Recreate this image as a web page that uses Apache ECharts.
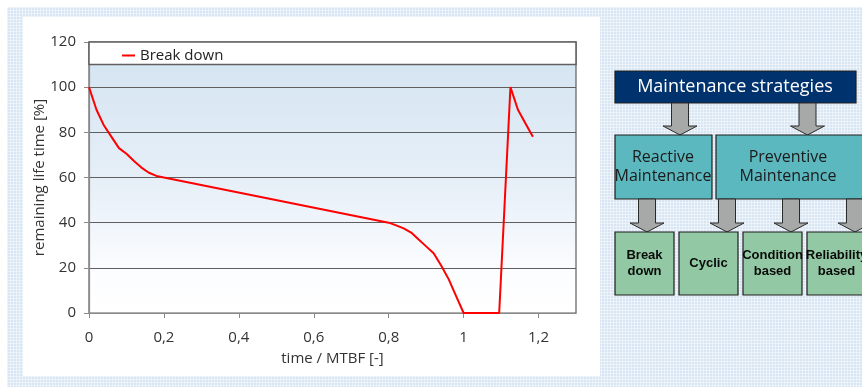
<!DOCTYPE html>
<html>
<head>
<meta charset="utf-8">
<script src="https://cdn.jsdelivr.net/npm/echarts@6/dist/echarts.min.js"></script>
<style>
  html, body { margin: 0; padding: 0; background: #ffffff; }
  #wrap { position: relative; width: 862px; height: 387px; overflow: hidden; }
  #bg {
    position: absolute; left: 7px; top: 7px; width: 855px; height: 380px;
    background-color: #d8e6f3;
    background-image:
      linear-gradient(90deg, rgba(255,255,255,0.45) 1px, transparent 1px),
      linear-gradient(rgba(255,255,255,0.45) 1px, transparent 1px);
    background-size: 3px 3px;
  }
  #panel { position: absolute; left: 23px; top: 17px; width: 577px; height: 359px; background: #ffffff; }
  #chart { position: absolute; left: 0; top: 0; width: 862px; height: 387px; }
</style>
</head>
<body>
<div id="wrap">
  <div id="bg"></div>
  <div id="panel"></div>
  <div id="chart"></div>
</div>
<script>
// Remaining life time of a component under a break-down strategy
const seriesName = 'Break down';
const timeMTBF = [0, 0.02, 0.04, 0.06, 0.08, 0.1, 0.12, 0.14, 0.16, 0.18, 0.2,
                  0.8, 0.82, 0.84, 0.86, 0.88, 0.9, 0.92, 0.94, 0.96, 0.98, 1.0,
                  1.095, 1.125, 1.145, 1.17, 1.185];
const remainingLife = [100, 90, 83, 78, 73, 70.5, 67.3, 64.4, 62.1, 60.7, 60,
                       40, 38.8, 37.5, 35.6, 32.5, 29.5, 26.5, 21, 15, 7.5, 0,
                       0, 100, 90, 82.5, 78];
const xTicks = [0, 0.2, 0.4, 0.6, 0.8, 1.0, 1.2];
const yTicks = [0, 20, 40, 60, 80, 100, 120];

// Strategy tree labels
const rootLabel = 'Maintenance strategies';
const groupLabels = ['Reactive\nMaintenance', 'Preventive\nMaintenance'];
const leafLabels = ['Break\ndown', 'Cyclic', 'Condition\nbased', 'Reliability\nbased'];

const FONT = '"Open Sans", "Noto Sans", sans-serif';
const fmtX = v => String(+(+v).toFixed(1)).replace('.', ',');

function downArrow(cx, y0, yh, y1) {
  const s = 8.5, h = 17;
  return {
    type: 'polygon',
    shape: { points: [[cx - s, y0], [cx + s, y0], [cx + s, yh], [cx + h, yh], [cx, y1], [cx - h, yh], [cx - s, yh]] },
    style: { fill: '#a6a9a7', stroke: '#2a2a2a', lineWidth: 1 }
  };
}
function box(x, y, w, h, fill) {
  return { type: 'rect', shape: { x, y, width: w, height: h }, style: { fill, stroke: '#1e1e1e', lineWidth: 1.2 } };
}
function label(x, y, text, font, fill, weight, lh) {
  return {
    type: 'text', x, y,
    style: { text, fill, font: (weight || 'normal') + ' ' + font, textAlign: 'center', textVerticalAlign: 'middle', lineHeight: lh }
  };
}

const graphics = [];
// top box
graphics.push(box(615, 71, 241, 32, '#00326e'));
graphics.push(label(735, 87, rootLabel, '18px ' + FONT, '#ffffff'));
// arrows to groups
graphics.push(downArrow(680, 103, 126, 135));
graphics.push(downArrow(807.5, 103, 126, 135));
// group boxes
graphics.push(box(615, 135, 97, 64, '#5cb8bf'));
graphics.push(box(716, 135, 160, 64, '#5cb8bf'));
graphics.push(label(663, 167, groupLabels[0], '16px ' + FONT, '#1b1b1b', 'normal', 19));
graphics.push(label(788, 167, groupLabels[1], '16px ' + FONT, '#1b1b1b', 'normal', 19));
// arrows to leaves
[647, 727, 791, 855].forEach(cx => graphics.push(downArrow(cx, 199, 223, 232)));
// leaf boxes
const leafX = [615, 679, 743, 807];
leafX.forEach((x, i) => {
  graphics.push(box(x, 232, 59, 63, '#92c9a4'));
  graphics.push(label(x + 29.5, 263, leafLabels[i], '13px "Liberation Sans", Arial, sans-serif', '#0a0a0a', 'bold', 16));
});

const chart = echarts.init(document.getElementById('chart'), null, { renderer: 'canvas' });
chart.setOption({
  backgroundColor: 'transparent',
  animation: false,
  grid: {
    left: 89, right: 286, top: 42, bottom: 74,
    show: true,
    borderColor: '#5f5f5f', borderWidth: 1.2,
    backgroundColor: {
      type: 'linear', x: 0, y: 0, x2: 0, y2: 1,
      colorStops: [
        { offset: 0, color: '#d2e3f1' },
        { offset: 0.55, color: '#e8f0f8' },
        { offset: 0.85, color: '#fcfdff' },
        { offset: 1, color: '#ffffff' }
      ]
    }
  },
  legend: {
    left: 116, top: 43,
    itemWidth: 13, itemHeight: 2, itemGap: 10,
    textStyle: { fontFamily: FONT, fontSize: 15, color: '#222' },
    data: [{ name: seriesName }]
  },
  xAxis: {
    type: 'value', min: 0, max: 1.3, interval: 0.2,
    name: 'time / MTBF [-]', nameLocation: 'middle', nameGap: 38, nameMoveOverlap: false,
    nameTextStyle: { fontFamily: FONT, fontSize: 15, color: '#333' },
    axisLine: { lineStyle: { color: '#8a8a8a', width: 1.2 } },
    axisTick: { show: true, length: 5, lineStyle: { color: '#8a8a8a' }, customValues: xTicks },
    axisLabel: { fontFamily: FONT, fontSize: 15, color: '#333', margin: 17, formatter: fmtX, customValues: xTicks },
    splitLine: { show: false }
  },
  yAxis: {
    type: 'value', min: 0, max: 120, interval: 20,
    name: 'remaining life time [%]', nameLocation: 'middle', nameGap: 42, nameRotate: 90, nameMoveOverlap: false,
    nameTextStyle: { fontFamily: FONT, fontSize: 15, color: '#333' },
    axisLine: { show: true, lineStyle: { color: '#8a8a8a', width: 1.2 } },
    axisTick: { show: true, length: 5, lineStyle: { color: '#8a8a8a' }, customValues: yTicks },
    axisLabel: { fontFamily: FONT, fontSize: 15, color: '#333', margin: 13, customValues: yTicks },
    splitLine: { show: true, lineStyle: { color: '#5f5f5f', width: 1 } }
  },
  series: [{
    name: seriesName,
    type: 'line',
    data: timeMTBF.map((t, i) => [t, remainingLife[i]]),
    symbol: 'none', showSymbol: false,
    lineStyle: { color: '#ff0000', width: 2 },
    itemStyle: { color: '#ff0000' },
    z: 5,
    markArea: {
      silent: true,
      itemStyle: { color: '#ffffff', borderColor: '#5f5f5f', borderWidth: 1.5 },
      data: [[{ yAxis: 110 }, { yAxis: 120 }]]
    }
  }],
  graphic: graphics
});
</script>
</body>
</html>
